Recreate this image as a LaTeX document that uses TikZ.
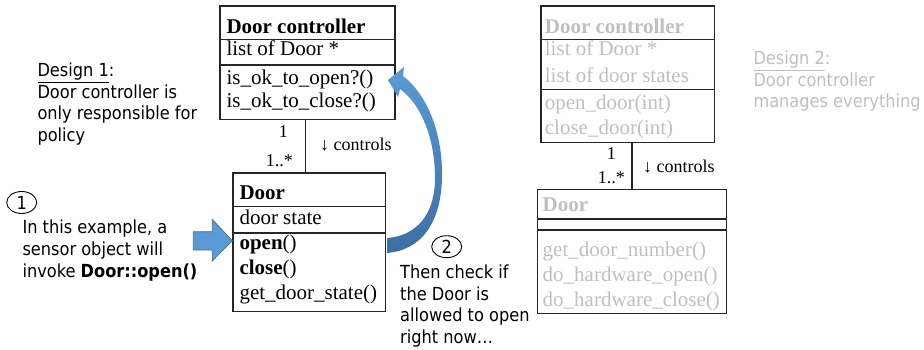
\documentclass[tikz,border=0pt]{standalone}
\usepackage{fontspec}
\setmainfont{Liberation Serif}
\newfontfamily\tah[FakeStretch=0.9]{DejaVu Sans}
\usetikzlibrary{shapes.geometric}
\definecolor{boxline}{HTML}{262626}
\definecolor{greytxt}{HTML}{BFBFBF}
\definecolor{blueA}{HTML}{5B9BD5}
\definecolor{blueB}{HTML}{41719C}
\definecolor{blueC}{HTML}{3C6EA3}
\begin{document}
\begin{tikzpicture}[x=1pt,y=-1pt,
  umlbox/.style={draw=boxline, line width=1.2pt, rectangle, inner sep=0pt, outer sep=0pt},
  sepline/.style={draw=boxline, line width=1.2pt},
  conn/.style={draw=boxline, line width=1.2pt},
  cls/.style={anchor=base west, inner sep=0pt, font=\fontsize{21}{24}\selectfont},
  gcls/.style={cls, text=greytxt},
  lbl/.style={inner sep=0pt, font=\fontsize{18}{21}\selectfont},
  note/.style={anchor=base west, inner sep=0pt, font=\tah\fontsize{18}{21}\selectfont},
  gnote/.style={note, text=greytxt},
  num/.style={ellipse, draw, line width=0.9pt, minimum width=30pt, minimum height=22pt, inner sep=0pt, font=\tah\fontsize{18}{21}\selectfont}
]
\useasboundingbox (0,0) rectangle (924,350);

% ---------- Design 1 ----------
\node[umlbox, minimum width=175pt, minimum height=113.3pt] (dc1) at (307.5,62.65) {};
\draw[sepline] (dc1.west |- 0,39.3) -- (dc1.east |- 0,39.3);
\draw[sepline] (dc1.west |- 0,65) -- (dc1.east |- 0,65);
\node[cls] (dc1a) at (226.3,33.3) {\textbf{Door controller}};
\node[cls] (dc1b) at (226.3,56) {list of Door *};
\node[cls] (dc1c) at (226.3,85) {is\_ok\_to\_open?()};
\node[cls] (dc1d) at (226.3,107.5) {is\_ok\_to\_close?()};

\node[umlbox, minimum width=152.3pt, minimum height=138.3pt] (door1) at (309.15,242.15) {};
\draw[sepline] (door1.west |- 0,206.3) -- (door1.east |- 0,206.3);
\draw[sepline] (door1.west |- 0,233) -- (door1.east |- 0,233);
\node[cls] (d1a) at (239.3,199.7) {\textbf{Door}};
\node[cls] (d1b) at (239.3,224) {door state};
\node[cls] (d1c) at (239.3,249.7) {\textbf{open}()};
\node[cls] (d1d) at (239.3,274) {\textbf{close}()};
\node[cls] (d1e) at (239.3,299) {get\_door\_state()};

\coordinate (c1) at (305.7,0);
\draw[conn] (dc1.south -| c1) -- (door1.north -| c1);
\node[lbl, anchor=base east] (m1a) at (288,138) {1};
\node[lbl, anchor=base east] (m1b) at (293,166.7) {1..*};
\node[lbl, anchor=base west] (m1c) at (320,150) {↓ controls};

\node[note] (n1a) at (37.3,77) {\underline{Design 1}:};
\node[note] (n1b) at (37.3,98.5) {Door controller is};
\node[note] (n1c) at (37.3,120) {only responsible for};
\node[note] (n1d) at (37.3,141.5) {policy};

\node[num] (s1) at (21.7,202.5) {1};
\node[note] (s1a) at (22.3,233.5) {In this example, a};
\node[note] (s1b) at (22.3,255.5) {sensor object will};
\node[note] (s1c) at (22.3,277.5) {invoke \textbf{Door::open()}};

\node[num] (s2) at (446.7,246.7) {2};
\node[note] (s2a) at (400,278.5) {Then check if};
\node[note] (s2b) at (400,300) {the Door is};
\node[note] (s2c) at (400,321.5) {allowed to open};
\node[note] (s2d) at (400,343) {right now…};

% block arrow into Door
\filldraw[fill=blueA, draw=blueB, line width=0.7pt]
  (193.3,231.7) -- (212.3,231.7) -- (212.3,219.3) -- (232.3,240.7)
  -- (212.3,261) -- (212.3,250) -- (193.3,250) -- cycle;

% curved arrow back to controller
\shade[top color=blueA, bottom color=blueC]
  (387,253) .. controls (422,250) and (441,222) .. (442,178)
  .. controls (443,135) and (428,95) .. (403,76)
  -- (404,67) -- (388,80) -- (398,97) -- (400,89)
  .. controls (422,105) and (435,140) .. (435,178)
  .. controls (435,215) and (416,236) .. (387,238) -- cycle;

% ---------- Design 2 ----------
\node[umlbox, minimum width=173.3pt, minimum height=136.7pt] (dc2) at (627.65,74.35) {};
\draw[sepline] (dc2.west |- 0,39.3) -- (dc2.east |- 0,39.3);
\draw[sepline] (dc2.west |- 0,89.3) -- (dc2.east |- 0,89.3);
\node[gcls] (dc2a) at (544.7,33.3) {\textbf{Door controller}};
\node[gcls] (dc2b) at (544.7,56) {list of Door *};
\node[gcls] (dc2c) at (544.7,82.7) {list of door states};
\node[gcls] (dc2d) at (544.7,109.5) {open\_door(int)};
\node[gcls] (dc2e) at (544.7,135) {close\_door(int)};

\node[umlbox, minimum width=189.4pt, minimum height=124pt] (door2) at (632,251.3) {};
\draw[sepline] (door2.west |- 0,219) -- (door2.east |- 0,219);
\draw[sepline] (door2.west |- 0,230) -- (door2.east |- 0,230);
\node[gcls] (d2a) at (542.5,211.7) {\textbf{Door}};
\node[gcls] (d2b) at (542.5,256.7) {get\_door\_number()};
\node[gcls] (d2c) at (542.5,281.7) {do\_hardware\_open()};
\node[gcls] (d2d) at (542.5,306.7) {do\_hardware\_close()};

\coordinate (c2) at (632,0);
\draw[conn] (dc2.south -| c2) -- (door2.north -| c2);
\node[lbl, anchor=base east] (m2a) at (616,160) {1};
\node[lbl, anchor=base east] (m2b) at (625,183.3) {1..*};
\node[lbl, anchor=base west] (m2c) at (643,173) {↓ controls};

\node[gnote] (n2a) at (753.3,65) {\underline{Design 2}:};
\node[gnote] (n2b) at (753.3,86.5) {Door controller};
\node[gnote] (n2c) at (753.3,108) {manages everything};
\end{tikzpicture}
\end{document}
